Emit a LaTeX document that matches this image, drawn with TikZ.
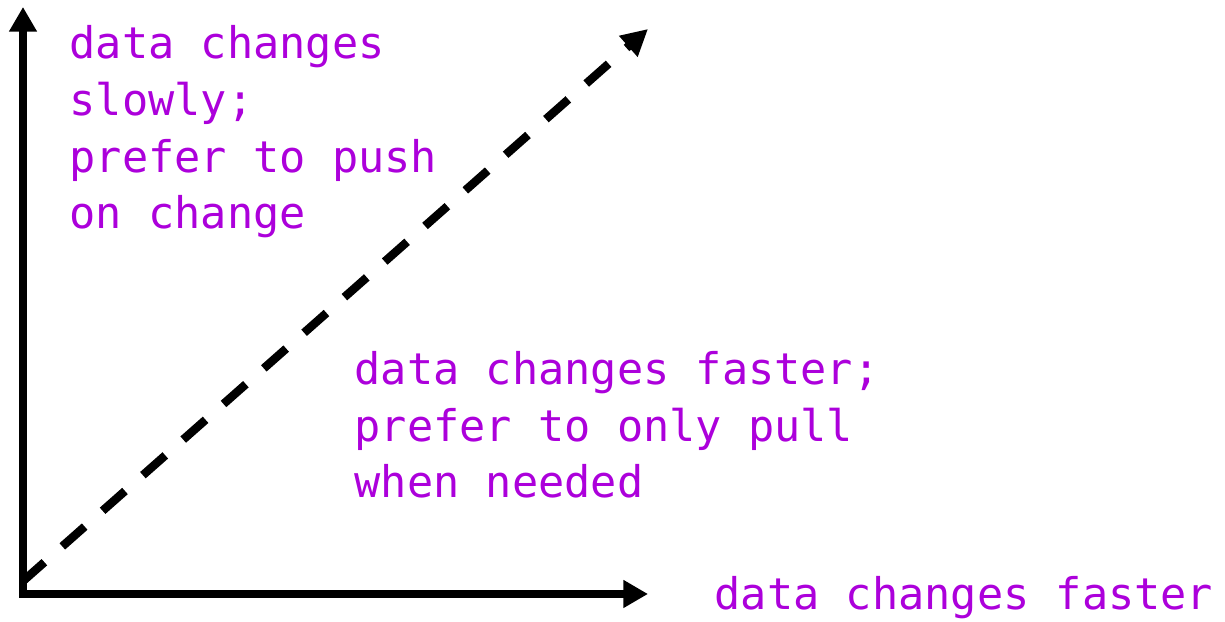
\documentclass[tikz,border=0pt]{standalone}
\usepackage{fontspec}
\setmonofont{DejaVu Sans Mono}
\usetikzlibrary{arrows.meta}
\definecolor{notepurple}{RGB}{172,0,219}

\begin{document}
\begin{tikzpicture}[
        axis/.style={line width=2.1pt, -{Triangle[length=7pt, width=7.5pt]}},
        divide/.style={line width=2.4pt, dash pattern=on 8.5pt off 6.8pt, -{Triangle[length=7.5pt, width=7.5pt]}},
        note/.style={font=\ttfamily\fontsize{12.4pt}{16.2pt}\selectfont, text=notepurple,
                     align=left, inner sep=0pt, anchor=base west}
    ]
  \useasboundingbox (0,0) rectangle (12.25,6.22);
  %%% Axes
  \coordinate (corner) at (0.23,0.28);
  \coordinate (ytip) at (0.23,6.15);
  \coordinate (xtip) at (6.48,0.28);
  \draw[axis] ([yshift=-1.05pt]corner) -- (ytip);
  \draw[axis] ([xshift=-1.05pt]corner) -- (xtip);
  % Dashed divide between the two regimes
  \coordinate (dstart) at (0.22,0.40);
  \coordinate (dtip) at (6.48,5.93);
  \draw[divide] (dstart) -- (dtip);

  %%% Labels (anchored at the baseline of their last line)
  \node[note] (slownote) at (0.69,3.93) {data changes\\slowly;\\prefer to push\\on change};
  \node[note] (fastnote) at (3.54,1.24) {data changes faster;\\prefer to only pull\\when needed};
  \node[note] (xlabel) at (7.14,0.12) {data changes faster};
\end{tikzpicture}
\end{document}
